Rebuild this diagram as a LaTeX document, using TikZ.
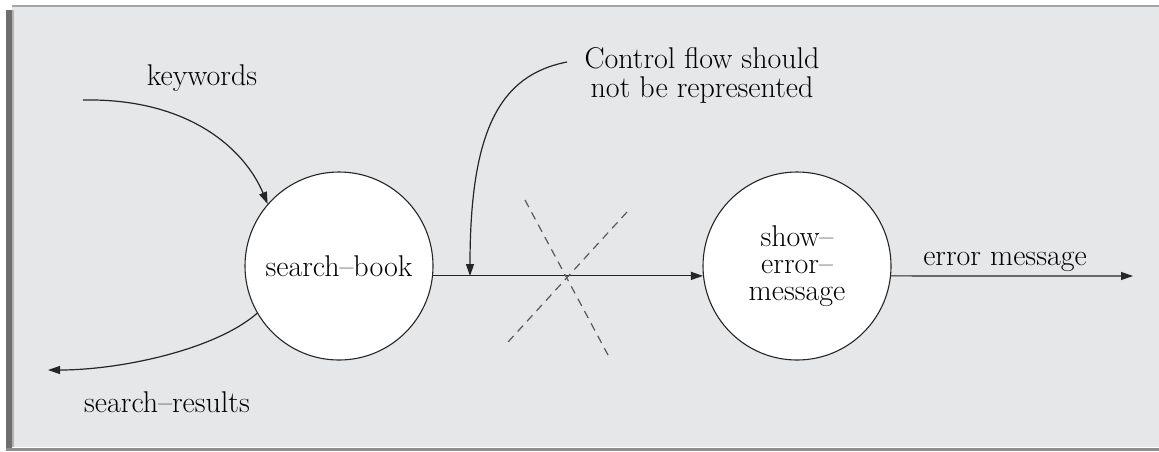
\documentclass[tikz,border=0pt]{standalone}
\usetikzlibrary{arrows.meta}
\definecolor{panel}{HTML}{E6E7E9}
\definecolor{rimtop}{HTML}{A4A4A4}
\definecolor{rimleft}{HTML}{6E6E6E}
\definecolor{rimbot}{HTML}{8E8E8E}
\begin{document}
\begin{tikzpicture}[x=0.5pt,y=-0.5pt,
  lbl/.style={inner sep=0pt,font=\fontsize{15}{14.5}\selectfont},
  process/.style={circle,draw=black!85,line width=0.55pt,fill=white,
    minimum size=94pt,inner sep=0pt,align=center,
    font=\fontsize{15}{13.5}\selectfont},
  flow/.style={line width=0.6pt,black!85,-{Triangle[length=6pt,width=4pt]}},
  cross/.style={line width=0.6pt,black!65,dash pattern=on 4pt off 3pt}]
  \useasboundingbox (0,0) rectangle (1159,451);
  % page and framed panel
  \fill[white] (0,0) rectangle (1159,451);
  \fill[panel] (12,7) rectangle (1159,447);
  \draw[rimtop,line width=1pt] (12,6) -- (1159,6);
  \fill[rimleft] (6,10) rectangle (12,451);
  \fill[black!30] (12,10) rectangle (14,447);
  \fill[rimbot] (6,448) rectangle (1159,451);

  % processes
  \node[process] (sb) at (339,266) {search--book};
  \node[process] (sem) at (797,266) {show--\\error--\\message};

  % labels
  \node[lbl,anchor=base] (kw) at (202,85) {keywords};
  \node[lbl,anchor=base] (sr) at (167,412) {search--results};
  \node[lbl,anchor=base] (em) at (1005,265) {error message};
  \node[lbl,align=center] (cf) at (702,75) {Control flow should\\not be represented};

  % free ends of the data flows
  \coordinate (kwin) at (83,100);
  \coordinate (srout) at (48,370);
  \coordinate (emout) at (1133,276);
  \coordinate (cfstart) at (567,62);
  \coordinate (cftip) at (470,276);

  % data flows
  \draw[flow] (kwin) .. controls (190,98) and (245,150) .. (sb.139);
  \draw[flow] (sb.210) .. controls (215,350) and (120,370) .. (srout);
  \draw[flow] (sb.-6) -- (sem.186);
  \draw[flow] (sem.-6) -- (emout);

  % annotation pointer
  \draw[flow] (cfstart) .. controls (500,75) and (470,130) .. (cftip);

  % struck-out control flow
  \draw[cross] (525,200) -- (608,355);
  \draw[cross] (627,212) -- (508,342);
\end{tikzpicture}
\end{document}
